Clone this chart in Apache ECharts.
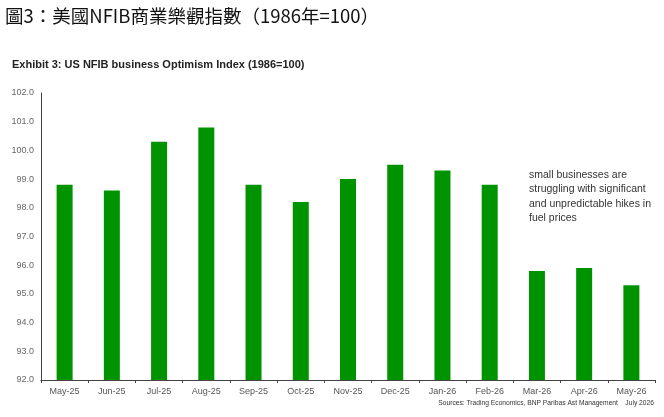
<!DOCTYPE html>
<html>
<head>
<meta charset="utf-8">
<script src="https://cdn.jsdelivr.net/npm/echarts@6/dist/echarts.min.js"></script>
<style>
  html, body { margin: 0; padding: 0; background: #fff; }
  #chart { width: 664px; height: 417px; }
</style>
</head>
<body>
<div id="chart"></div>
<script>
// data
var months = ['May-25', 'Jun-25', 'Jul-25', 'Aug-25', 'Sep-25', 'Oct-25', 'Nov-25',
  'Dec-25', 'Jan-26', 'Feb-26', 'Mar-26', 'Apr-26', 'May-26'];
var optimism = [98.8, 98.6, 100.3, 100.8, 98.8, 98.2, 99.0, 99.5, 99.3, 98.8, 95.8, 95.9, 95.3];
var noteLines = ['small businesses are', 'struggling with significant',
  'and unpredictable hikes in', 'fuel prices'];

var sans = '"Liberation Sans", Arial, sans-serif';

var chart = echarts.init(document.getElementById('chart'));
chart.setOption({
  animation: false,
  backgroundColor: '#fff',
  title: [
    {
      text: '圖3：美國NFIB商業樂觀指數（1986年=100）',
      left: 0, top: 2,
      textStyle: { fontFamily: '"Noto Sans CJK TC", sans-serif', fontSize: 18.5, fontWeight: 'normal', color: '#111' }
    },
    {
      text: 'Exhibit 3: US NFIB business Optimism Index (1986=100)',
      left: 7, top: 54,
      textStyle: { fontFamily: sans, fontSize: 11, fontWeight: 'bold', color: '#222' }
    },
    {
      text: noteLines.join('\n'),
      left: 524, top: 163,
      textStyle: { fontFamily: sans, fontSize: 10.5, fontWeight: 'normal', color: '#333', lineHeight: 14.3 }
    },
    {
      text: 'Sources: Trading Economics, BNP Paribas Ast Management    July 2026',
      right: 5, top: 395,
      textStyle: { fontFamily: sans, fontSize: 6.7, fontWeight: 'normal', color: '#333' }
    }
  ],
  grid: { left: 41, right: 9, top: 93, bottom: 37 },
  xAxis: {
    type: 'category',
    data: months,
    axisLine: { lineStyle: { color: '#444', width: 1 } },
    axisTick: { show: true, length: 3, lineStyle: { color: '#444' } },
    axisLabel: { fontFamily: sans, fontSize: 9, color: '#555', margin: 7 }
  },
  yAxis: {
    type: 'value',
    min: 92, max: 102, interval: 1,
    axisLine: { show: true, lineStyle: { color: '#444', width: 1 } },
    axisTick: { show: false },
    splitLine: { show: false },
    axisLabel: {
      fontFamily: sans, fontSize: 9, color: '#666', margin: 7,
      formatter: function (v) { return v.toFixed(1); }
    }
  },
  series: [{
    type: 'bar',
    data: optimism,
    barWidth: 16,
    itemStyle: { color: '#009300' }
  }]
});
</script>
</body>
</html>
